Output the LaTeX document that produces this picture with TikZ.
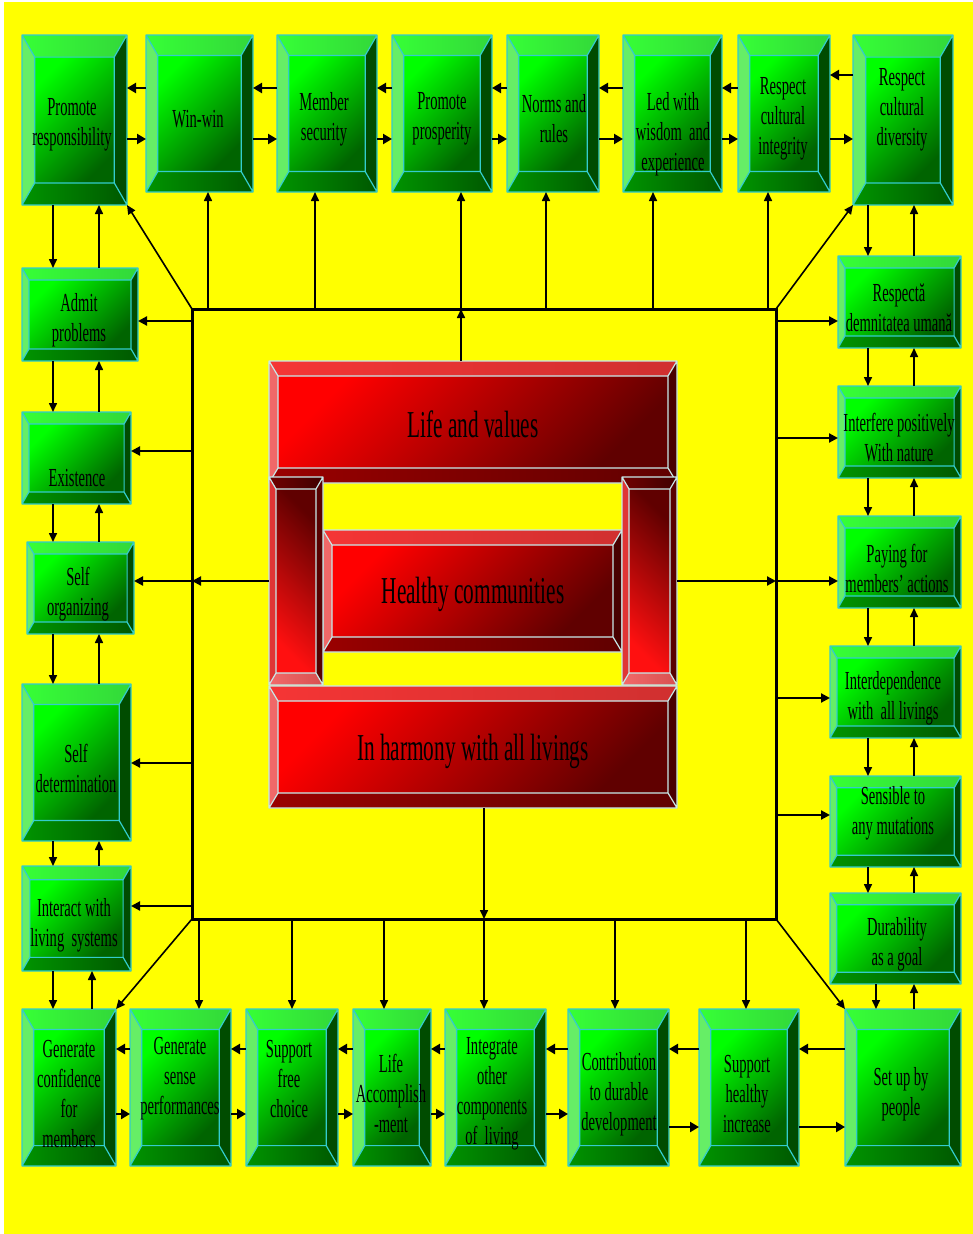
\documentclass[tikz,border=0pt]{standalone}
\usepackage{fontspec}
\newfontfamily\condfont{Liberation Serif}[FakeStretch=0.56]
\usetikzlibrary{arrows.meta,fit}
\definecolor{bgyellow}{HTML}{FFFF00}
% green scheme
\definecolor{gUL}{HTML}{00FF00}
\definecolor{gLR}{HTML}{006400}
\definecolor{gTa}{HTML}{36FF36}
\definecolor{gTb}{HTML}{33D83A}
\definecolor{gL}{HTML}{66EE66}
\definecolor{gR}{HTML}{004C00}
\definecolor{gBa}{HTML}{009400}
\definecolor{gBb}{HTML}{005800}
\definecolor{gLine}{HTML}{33CCCC}
\def\gang{45}
% red scheme
\definecolor{rUL}{HTML}{FF0000}
\definecolor{rLR}{HTML}{600000}
\definecolor{rTa}{HTML}{F53535}
\definecolor{rTb}{HTML}{D03030}
\definecolor{rL}{HTML}{F06868}
\definecolor{rR}{HTML}{480000}
\definecolor{rBa}{HTML}{9A0000}
\definecolor{rBb}{HTML}{600000}
\definecolor{rLine}{HTML}{C8E8E8}
\def\rang{45}
% pillar scheme
\definecolor{pUL}{HTML}{600000}
\definecolor{pLR}{HTML}{FF1010}
\definecolor{pTa}{HTML}{700000}
\definecolor{pTb}{HTML}{400000}
\definecolor{pL}{HTML}{E03535}
\definecolor{pR}{HTML}{580000}
\definecolor{pBa}{HTML}{F26A6A}
\definecolor{pBb}{HTML}{D85050}
\colorlet{pLine}{rLine}
\def\pang{-45}

\newcommand\bevel[7]{%
  \pgfmathsetmacro\bvA{#1+(#5)}%
  \pgfmathsetmacro\bvB{#2+(#6)}%
  \pgfmathsetmacro\bvC{#3-(#5)}%
  \pgfmathsetmacro\bvD{#4-(#6)}%
  \shade[top color=#7UL,bottom color=#7LR,shading angle=\csname #7ang\endcsname] (\bvA,\bvB) rectangle (\bvC,\bvD);
  \shade[left color=#7Ta,right color=#7Tb] (#1,#2) -- (#3,#2) -- (\bvC,\bvB) -- (\bvA,\bvB) -- cycle;
  \fill[#7L] (#1,#2) -- (\bvA,\bvB) -- (\bvA,\bvD) -- (#1,#4) -- cycle;
  \fill[#7R] (#3,#2) -- (#3,#4) -- (\bvC,\bvD) -- (\bvC,\bvB) -- cycle;
  \shade[left color=#7Ba,right color=#7Bb] (#1,#4) -- (\bvA,\bvD) -- (\bvC,\bvD) -- (#3,#4) -- cycle;
  \draw[#7Line,line width=1.2pt,line join=round] (#1,#2) rectangle (#3,#4) (\bvA,\bvB) rectangle (\bvC,\bvD) (#1,#2) -- (\bvA,\bvB) (#3,#2) -- (\bvC,\bvB) (#1,#4) -- (\bvA,\bvD) (#3,#4) -- (\bvC,\bvD);
}
\newcommand\gbox[5]{%
  \pgfmathsetmacro\bvH{(#5)-(#3)}%
  \bevel{#2}{#3}{#4}{#5}{0.075*\bvH}{0.13*\bvH}{g}%
  \node[boxn,fit={(#2,#3) (#4,#5)}] (#1) {};%
}
\newcommand\rbox[8]{%
  \bevel{#2}{#3}{#4}{#5}{#6}{#7}{#8}%
  \node[boxn,fit={(#2,#3) (#4,#5)}] (#1) {};%
}

\begin{document}
\begin{tikzpicture}[x=1pt,y=-1pt,
  harr/.style={line width=2.5pt,-{Triangle[length=9pt,width=10pt]}},
  varr/.style={line width=1.6pt,-{Triangle[length=9pt,width=8pt]}},
  farr/.style={line width=2.1pt,-{Triangle[length=9pt,width=9pt]}},
  gtxt/.style={font=\condfont\fontsize{26}{30}\selectfont,align=center,inner sep=0pt,yshift=-3pt},
  rtxt/.style={font=\condfont\fontsize{38}{44}\selectfont,inner sep=0pt},
  boxn/.style={inner sep=0pt,outer sep=0pt}]
\useasboundingbox (0,0) rectangle (973,1234);
\fill[white] (0,0) rectangle (973,1234);
\fill[bgyellow] (4,2) rectangle (973,1234);

% central frame
\node[draw,line width=3pt,boxn,fit={(192,309) (776,919)}] (frame) {};

% top row
\gbox{pr}{22}{35}{127}{205}
\gbox{ww}{146}{35}{253}{192}
\gbox{ms}{277}{35}{377}{192}
\gbox{pp}{392}{35}{492}{192}
\gbox{nr}{507}{35}{599}{192}
\gbox{lw}{623}{35}{722}{192}
\gbox{rci}{738}{35}{830}{192}
\gbox{rcd}{853}{35}{953}{205}
% right column
\gbox{rdu}{838}{256}{961}{348}
\gbox{ipn}{838}{386}{961}{478}
\gbox{pma}{838}{516}{961}{608}
\gbox{idl}{830}{646}{961}{738}
\gbox{smu}{830}{776}{961}{867}
\gbox{dag}{830}{893}{961}{984}
\gbox{sup}{845}{1009}{961}{1166}
% bottom row
\gbox{shi}{699}{1009}{799}{1166}
\gbox{cdd}{568}{1009}{669}{1166}
\gbox{ioc}{445}{1009}{546}{1166}
\gbox{lam}{353}{1009}{431}{1166}
\gbox{sfc}{246}{1009}{338}{1166}
\gbox{gsp}{130}{1009}{231}{1166}
\gbox{gcm}{22}{1009}{116}{1166}
% left column
\gbox{adp}{22}{268}{138}{361}
\gbox{ext}{22}{412}{131}{504}
\gbox{sor}{27}{542}{134}{634}
\gbox{sdt}{22}{684}{131}{841}
\gbox{ils}{22}{866}{131}{971}

% central red blocks
\rbox{lv}{269}{361}{677}{483}{9}{15}{r}
\rbox{ih}{269}{686}{677}{808}{9}{15}{r}
\rbox{hc}{323}{530}{622}{652}{9}{15}{r}
\rbox{lp}{269}{477}{323}{685}{7}{12}{p}
\rbox{rp}{622}{477}{677}{685}{7}{12}{p}

% texts
\node[gtxt] at (72,122) {Promote\\responsibility};
\node[gtxt] at (198,116) {Win-win};
\node[gtxt] at (324,116) {Member\\security};
\node[gtxt] at (442,116) {Promote\\prosperity};
\node[gtxt] at (554,116) {Norms and\\rules};
\node[gtxt] at (673,131) {Led with\\wisdom\ \ and\\experience};
\node[gtxt] at (783,116) {Respect\\cultural\\integrity};
\node[gtxt] at (902,107) {Respect\\cultural\\diversity};
\node[gtxt] at (899,305) {Respectă\\demnitatea umană};
\node[gtxt] at (899,435) {Interfere positively\\With nature};
\node[gtxt] at (897,565) {Paying for\\members’ actions};
\node[gtxt] at (893,695) {Interdependence\\with\ \ all livings};
\node[gtxt] at (893,810) {Sensible to\\any mutations};
\node[gtxt] at (897,941) {Durability\\as a goal};
\node[gtxt] at (901,1091) {Set up by\\people};
\node[gtxt] at (747,1091) {Support\\healthy\\increase};
\node[gtxt] at (619,1091) {Contribution\\to durable\\development};
\node[gtxt] at (492,1091) {Integrate\\other\\components\\of\ \ living};
\node[gtxt] at (391,1090) {Life\\Accomplish\\-ment};
\node[gtxt] at (289,1076) {Support\\free\\choice};
\node[gtxt] at (180,1076) {Generate\\sense\\performances};
\node[gtxt] at (69,1091) {Generate\\confidence\\for\\members};
\node[gtxt] at (74,922) {Interact with\\living\ \ systems};
\node[gtxt] at (76,765) {Self\\determination};
\node[gtxt] at (78,591) {Self\\organizing};
\node[gtxt] at (77,475) {Existence};
\node[gtxt] at (79,317) {Admit\\problems};
\node[rtxt] at (473,424) {Life and values};
\node[rtxt] at (473,594) {Healthy communities};
\node[rtxt] at (473,751) {In harmony with all livings};

% top row horizontal arrows
\foreach \a/\b in {pr/ww,ww/ms,ms/pp,pp/nr,nr/lw,lw/rci}{
  \draw[harr] (\b.west |- 0,88) -- (\a.east |- 0,88);
  \draw[harr] (\a.east |- 0,139) -- (\b.west |- 0,139);
}
\draw[harr] (rcd.west |- 0,75) -- (rci.east |- 0,75);
\draw[harr] (rci.east |- 0,139) -- (rcd.west |- 0,139);

% bottom row horizontal arrows
\foreach \a/\b in {gcm/gsp,gsp/sfc,sfc/lam,lam/ioc,ioc/cdd}{
  \draw[harr] (\b.west |- 0,1049) -- (\a.east |- 0,1049);
  \draw[harr] (\a.east |- 0,1114) -- (\b.west |- 0,1114);
}
\foreach \a/\b in {cdd/shi,shi/sup}{
  \draw[harr] (\b.west |- 0,1049) -- (\a.east |- 0,1049);
  \draw[harr] (\a.east |- 0,1127) -- (\b.west |- 0,1127);
}

% left column vertical arrows
\foreach \a/\b in {pr/adp,adp/ext,ext/sor,sor/sdt,sdt/ils}{
  \draw[varr] (\a.south -| 53,0) -- (\b.north -| 53,0);
  \draw[varr] (\b.north -| 99,0) -- (\a.south -| 99,0);
}
\draw[varr] (ils.south -| 53,0) -- (gcm.north -| 53,0);
\draw[varr] (gcm.north -| 92,0) -- (ils.south -| 92,0);

% right column vertical arrows
\foreach \a/\b in {rcd/rdu,rdu/ipn,ipn/pma,pma/idl,idl/smu,smu/dag}{
  \draw[varr] (\a.south -| 868,0) -- (\b.north -| 868,0);
  \draw[varr] (\b.north -| 914,0) -- (\a.south -| 914,0);
}
\draw[varr] (dag.south -| 876,0) -- (sup.north -| 876,0);
\draw[varr] (sup.north -| 914,0) -- (dag.south -| 914,0);

% frame to top row
\foreach \n/\x in {ww/208,ms/315,nr/546,lw/653,rci/768}{
  \draw[varr] (frame.north -| \x,0) -- (\n.south -| \x,0);
}
\draw[varr] (lv.north -| 461,0) -- (frame.north -| 461,0);
\draw[varr] (frame.north -| 461,0) -- (pp.south -| 461,0);

% frame to bottom row
\foreach \n/\x in {gsp/199,sfc/292,lam/384,cdd/615,shi/746}{
  \draw[varr] (frame.south -| \x,0) -- (\n.north -| \x,0);
}
\draw[varr] (ih.south -| 484,0) -- (frame.south -| 484,0);
\draw[varr] (frame.south -| 484,0) -- (ioc.north -| 484,0);

% frame to left column
\foreach \n/\y in {adp/321,ext/451,sdt/763,ils/906}{
  \draw[farr] (frame.west |- 0,\y) -- (\n.east |- 0,\y);
}
\draw[farr] (lp.west |- 0,581) -- (frame.west |- 0,581);
\draw[farr] (frame.west |- 0,581) -- (sor.east |- 0,581);

% frame to right column
\foreach \n/\y in {rdu/321,ipn/438,idl/698,smu/815}{
  \draw[farr] (frame.east |- 0,\y) -- (\n.west |- 0,\y);
}
\draw[farr] (rp.east |- 0,581) -- (frame.east |- 0,581);
\draw[farr] (frame.east |- 0,581) -- (pma.west |- 0,581);

% diagonal corner arrows
\draw[varr] (frame.north west) -- (pr.south east);
\draw[varr] (frame.north east) -- (rcd.south west);
\draw[varr] (frame.south west) -- (gcm.north east);
\draw[varr] (frame.south east) -- (sup.north west);
\end{tikzpicture}
\end{document}
